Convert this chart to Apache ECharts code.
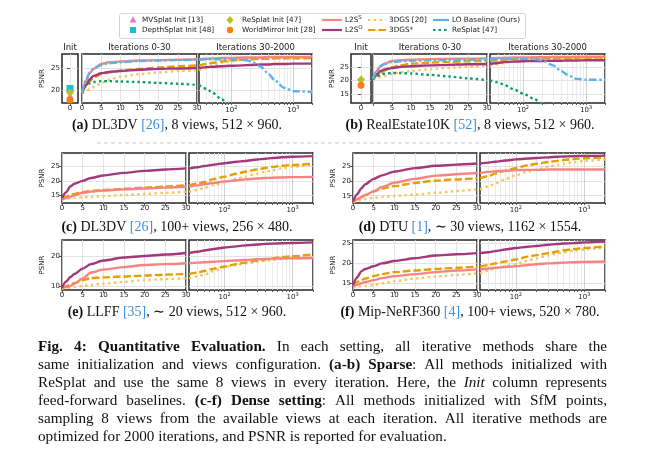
<!DOCTYPE html>
<html>
<head>
<meta charset="utf-8">
<title>PSNR vs iterations</title>
<script src="https://cdn.jsdelivr.net/npm/echarts@6.0.0/dist/echarts.min.js"></script>
<style>
html, body { margin: 0; padding: 0; background: #fff; }
#chart { width: 646px; height: 450px; }
</style>
</head>
<body>
<div id="chart"></div>
<script>
// iteration each curve value was read at
const iters = [0, 1, 2, 3, 5, 7, 10, 15, 20, 25, 30, 40, 50, 70, 100, 150, 200, 300, 400, 500, 700, 1000, 2000];

// feed-forward baselines (Init column)
const initNames = ['MVSplat Init [13]', 'DepthSplat Init [48]', 'ReSplat Init [47]', 'WorldMirror Init [28]'];
const initA = [18.7, 20.3, 19.4, 17.7];
const initB = [null, null, 20.4, 18.3];

// (a) DL3DV, 8 views
const a_L2SS    = [19.3, 22.0, 23.8, 24.8, 25.9, 26.3, 26.5, 26.7, 26.8, 26.9, 27.0, 27.1, 27.2, 27.3, 27.3, 27.4, 27.4, 27.4, 27.5, 27.5, 27.5, 27.5, 27.6];
const a_L2SO    = [19.3, 21.0, 22.4, 23.2, 23.8, 24.1, 24.3, 24.6, 24.8, 24.9, 25.0, 25.2, 25.3, 25.4, 25.5, 25.6, 25.7, 25.8, 25.8, 25.9, 25.9, 26.0, 26.0];
const a_3DGSs   = [19.3, 20.8, 22.0, 22.8, 23.6, 24.0, 24.4, 24.8, 25.1, 25.4, 25.6, 25.9, 26.2, 26.5, 26.7, 26.9, 27.0, 27.1, 27.1, 27.2, 27.2, 27.2, 27.3];
const a_3DGS    = [19.3, 19.6, 20.2, 20.6, 21.5, 22.3, 23.0, 23.6, 24.0, 24.3, 24.5, 25.0, 25.5, 26.2, 26.6, 26.9, 27.0, 27.1, 27.1, 27.2, 27.2, 27.2, 27.3];
const a_LO      = [19.3, 22.2, 24.0, 24.9, 25.7, 26.1, 26.3, 26.6, 26.7, 26.8, 26.9, 27.0, 27.0, 27.0, 27.0, 26.9, 26.6, 25.3, 23.6, 22.2, 20.5, 19.7, 19.5];
const a_ReSplat = [19.3, 20.8, 21.5, 21.8, 22.0, 22.0, 21.9, 21.8, 21.6, 21.4, 21.1, 20.2, 19.3, 17.8, 16.0, 13.5, 12.0, 10.0, 9.0, 8.5, 8.0, 7.5, 7.0];

// (b) RealEstate10K, 8 views
const b_L2SS    = [20.5, 23.5, 25.3, 26.2, 27.2, 27.5, 27.7, 27.9, 28.0, 28.1, 28.2, 28.3, 28.4, 28.5, 28.5, 28.6, 28.6, 28.7, 28.7, 28.7, 28.8, 28.8, 28.8];
const b_L2SO    = [20.5, 22.3, 23.5, 24.1, 24.6, 25.0, 25.3, 25.6, 25.8, 26.0, 26.1, 26.5, 26.8, 27.0, 27.1, 27.2, 27.2, 27.3, 27.3, 27.4, 27.4, 27.5, 27.5];
const b_3DGSs   = [20.5, 21.8, 22.8, 23.7, 24.9, 25.6, 26.2, 26.6, 26.9, 27.1, 27.3, 27.5, 27.7, 27.9, 28.0, 28.2, 28.2, 28.3, 28.3, 28.4, 28.4, 28.5, 28.5];
const b_3DGS    = [20.5, 20.9, 21.3, 21.7, 22.5, 23.0, 23.5, 24.2, 24.7, 25.1, 25.5, 26.0, 26.5, 27.1, 27.5, 27.8, 28.0, 28.1, 28.2, 28.2, 28.3, 28.3, 28.4];
const b_LO      = [20.5, 23.8, 25.4, 26.1, 26.8, 27.1, 27.3, 27.5, 27.6, 27.7, 27.8, 27.9, 28.0, 28.0, 28.0, 27.9, 27.5, 25.6, 23.6, 22.2, 20.6, 20.3, 20.3];
const b_ReSplat = [20.5, 21.6, 22.2, 22.5, 22.8, 22.8, 22.6, 22.1, 21.5, 20.8, 20.1, 19.3, 18.5, 16.8, 15.2, 13.2, 11.5, 9.0, 7.0, 6.0, 5.0, 4.0, 3.0];

// (c) DL3DV, 100+ views
const c_L2SO  = [14.0, 16.0, 18.0, 19.0, 20.0, 21.0, 21.9, 22.8, 23.5, 24.0, 24.4, 24.8, 25.2, 25.7, 26.2, 26.7, 27.0, 27.5, 27.8, 28.0, 28.3, 28.5, 28.7];
const c_L2SS  = [13.5, 13.9, 14.4, 14.9, 15.8, 16.2, 16.6, 17.0, 17.3, 17.6, 17.9, 18.4, 18.8, 19.3, 19.8, 20.2, 20.5, 20.8, 21.0, 21.1, 21.2, 21.3, 21.4];
const c_3DGSs = [13.8, 14.4, 15.0, 15.4, 16.1, 16.5, 16.8, 17.2, 17.6, 18.0, 18.4, 19.0, 19.6, 20.6, 21.5, 22.5, 23.2, 24.0, 24.5, 24.9, 25.3, 25.6, 26.0];
const c_3DGS  = [13.5, 13.7, 13.9, 14.0, 14.2, 14.4, 14.6, 15.0, 15.4, 15.8, 16.1, 16.8, 17.5, 18.5, 19.5, 20.7, 21.5, 22.5, 23.2, 23.7, 24.4, 25.0, 25.8];

// (d) DTU, ~30 views
const d_L2SO  = [13.0, 15.5, 17.5, 19.0, 20.8, 22.0, 23.3, 24.5, 25.3, 25.7, 26.1, 26.4, 26.7, 27.1, 27.5, 27.8, 28.0, 28.2, 28.4, 28.5, 28.6, 28.7, 28.8];
const d_L2SS  = [13.0, 13.8, 14.5, 15.2, 16.5, 18.0, 19.5, 20.8, 21.9, 22.4, 22.8, 23.2, 23.4, 23.6, 23.8, 23.9, 23.9, 24.0, 24.0, 24.0, 24.0, 24.0, 24.0];
const d_3DGSs = [13.0, 13.8, 14.6, 15.3, 16.5, 17.5, 18.3, 19.4, 20.2, 20.6, 21.0, 21.8, 22.6, 23.6, 24.5, 25.5, 26.0, 26.6, 27.0, 27.3, 27.6, 27.9, 28.2];
const d_3DGS  = [12.7, 13.2, 13.6, 13.9, 14.3, 14.6, 14.9, 15.4, 16.0, 16.6, 17.2, 18.2, 19.2, 20.7, 22.0, 23.3, 24.0, 25.0, 25.6, 26.0, 26.6, 27.0, 27.5];

// (e) LLFF, ~20 views
const e_L2SO  = [9.5, 11.5, 13.0, 14.0, 15.8, 17.3, 18.5, 19.5, 20.0, 20.5, 21.0, 21.4, 21.8, 22.3, 22.8, 23.2, 23.5, 23.8, 24.0, 24.1, 24.2, 24.3, 24.5];
const e_L2SS  = [9.5, 9.7, 10.0, 10.8, 12.5, 14.5, 15.5, 16.3, 17.0, 17.3, 17.6, 17.8, 17.9, 18.1, 18.3, 18.5, 18.7, 18.9, 19.0, 19.1, 19.2, 19.2, 19.3];
const e_3DGSs = [9.5, 10.0, 10.5, 11.0, 12.0, 12.6, 12.9, 13.2, 13.5, 13.8, 14.0, 14.5, 15.0, 15.8, 16.5, 17.3, 17.8, 18.5, 18.9, 19.2, 19.6, 19.9, 20.5];
const e_3DGS  = [9.3, 9.4, 9.5, 9.7, 10.0, 10.4, 10.8, 11.4, 12.0, 12.3, 12.6, 13.2, 13.8, 15.0, 16.3, 17.0, 17.5, 18.0, 18.4, 18.7, 19.0, 19.3, 19.5];

// (f) Mip-NeRF360, 100+ views
const f_L2SO  = [14.5, 16.5, 18.0, 18.6, 19.3, 20.0, 20.6, 21.3, 22.0, 22.3, 22.6, 22.8, 23.1, 23.5, 23.9, 24.2, 24.4, 24.7, 24.9, 25.0, 25.1, 25.3, 25.5];
const f_L2SS  = [14.2, 14.6, 15.0, 15.3, 15.8, 16.3, 16.8, 17.3, 17.8, 18.2, 18.5, 18.7, 18.9, 19.1, 19.3, 19.6, 19.8, 20.0, 20.1, 20.2, 20.3, 20.4, 20.5];
const f_3DGSs = [14.5, 15.3, 15.8, 16.2, 16.8, 17.3, 17.8, 18.2, 18.6, 18.9, 19.2, 19.6, 20.0, 20.5, 21.0, 21.7, 22.1, 22.6, 23.0, 23.3, 23.6, 23.9, 24.3];
const f_3DGS  = [14.0, 14.1, 14.2, 14.3, 14.5, 15.0, 15.5, 16.2, 16.7, 17.1, 17.5, 18.2, 18.8, 19.3, 19.8, 20.7, 21.3, 22.0, 22.5, 22.8, 23.2, 23.5, 24.0];

// x ticks
const logMinor = [40, 50, 60, 70, 80, 90, 100, 200, 300, 400, 500, 600, 700, 800, 900, 1000, 2000];
const logMajor = [100, 1000];

const captions = [
  '{b|(a)} DL3DV {l|[26]}, 8 views, 512 × 960.',
  '{b|(b)} RealEstate10K {l|[52]}, 8 views, 512 × 960.',
  '{b|(c)} DL3DV {l|[26]}, 100+ views, 256 × 480.',
  '{b|(d)} DTU {l|[1]}, ∼ 30 views, 1162 × 1554.',
  '{b|(e)} LLFF {l|[35]}, ∼ 20 views, 512 × 960.',
  '{b|(f)} Mip-NeRF360 {l|[4]}, 100+ views, 520 × 780.'
];

const figCaption = [
  '{b|Fig. 4: Quantitative Evaluation.} In each setting, all iterative methods share the',
  'same initialization and views configuration. {b|(a-b)} {b|Sparse}: All methods initialized with',
  'ReSplat and use the same 8 views in every iteration. Here, the {i|Init} column represents',
  'feed-forward baselines. {b|(c-f)} {b|Dense setting}: All methods initialized with SfM points,',
  'sampling 8 views from the available views at each iteration. All iterative methods are',
  'optimized for 2000 iterations, and PSNR is reported for evaluation.'
];

const styles = {
  '3DGS [20]':          { color: '#f6c55b', dash: [2.4, 3.4], z: 2 },
  '3DGS*':              { color: '#e69f00', dash: [7.5, 3], z: 3 },
  'L2SS':               { color: '#f98383', dash: 'solid', z: 4 },
  'L2SO':               { color: '#a3387a', dash: 'solid', z: 5 },
  'ReSplat [47]':       { color: '#0a9b70', dash: [2.5, 3], z: 6 },
  'LO Baseline (Ours)': { color: '#5bb4e8', dash: [7.5, 2.5, 2.4, 2.5], z: 7 }
};
const initStyles = [
  { symbol: 'triangle', color: '#e377c2', size: 7 },
  { symbol: 'rect', color: '#17becf', size: 7 },
  { symbol: 'diamond', color: '#bcbd22', size: 8 },
  { symbol: 'circle', color: '#ff7f0e', size: 7 }
];

const panels = [
  { init: [62, 16], short: [82, 115], long: [199, 113], top: 54, height: 49, y: [17, 28.2], yTicks: [20, 25], nameGap: 16, hideZero: false, initVals: initA,
    curves: { '3DGS [20]': a_3DGS, '3DGS*': a_3DGSs, 'L2SS': a_L2SS, 'L2SO': a_L2SO, 'ReSplat [47]': a_ReSplat, 'LO Baseline (Ours)': a_LO } },
  { init: [351, 20], short: [373, 114], long: [490, 115], top: 54, height: 49, y: [11.7, 29.8], yTicks: [15, 20, 25], nameGap: 15, hideZero: true, initVals: initB,
    curves: { '3DGS [20]': b_3DGS, '3DGS*': b_3DGSs, 'L2SS': b_L2SS, 'L2SO': b_L2SO, 'ReSplat [47]': b_ReSplat, 'LO Baseline (Ours)': b_LO } },
  { short: [62, 124], long: [189, 124], top: 153, height: 50, y: [12.2, 29.8], yTicks: [15, 20, 25], nameGap: 16,
    curves: { '3DGS [20]': c_3DGS, '3DGS*': c_3DGSs, 'L2SS': c_L2SS, 'L2SO': c_L2SO } },
  { short: [353, 124], long: [480, 125], top: 153, height: 50, y: [12.5, 29.7], yTicks: [15, 20, 25], nameGap: 16,
    curves: { '3DGS [20]': d_3DGS, '3DGS*': d_3DGSs, 'L2SS': d_L2SS, 'L2SO': d_L2SO } },
  { short: [62, 124], long: [189, 124], top: 240, height: 50, y: [8.7, 25.3], yTicks: [10, 20], nameGap: 16,
    curves: { '3DGS [20]': e_3DGS, '3DGS*': e_3DGSs, 'L2SS': e_L2SS, 'L2SO': e_L2SO } },
  { short: [353, 124], long: [480, 125], top: 240, height: 50, y: [13.3, 25.9], yTicks: [15, 20, 25], nameGap: 16,
    curves: { '3DGS [20]': f_3DGS, '3DGS*': f_3DGSs, 'L2SS': f_L2SS, 'L2SO': f_L2SO } }
];
const captionPos = [[177, 125], [470, 125], [177, 227], [470, 227], [177, 312], [470, 312]];

const FONT = 'DejaVu Sans';
const SERIF = 'Liberation Serif';
const gridLine = '#dcdcdc';
const tickStyle = { length: 3, lineStyle: { color: '#333', width: 0.8 } };
const labelStyle = { fontSize: 7, color: '#222', fontFamily: FONT, margin: 2 };

const grids = [], xAxes = [], yAxes = [], series = [];

function shortX(g, hideZero) {
  return {
    type: 'value', gridIndex: g, min: 0, max: 30, interval: 5,
    axisLine: { show: false },
    axisTick: Object.assign({ show: true }, tickStyle),
    axisLabel: Object.assign({ formatter: v => (hideZero && v === 0) ? '' : String(v) }, labelStyle),
    splitLine: { show: true, lineStyle: { color: gridLine, width: 0.8 } }
  };
}
function longX(g) {
  const ticks = logMinor.map(v => Math.log10(v));
  return {
    type: 'value', gridIndex: g, min: Math.log10(30), max: Math.log10(2000),
    axisLine: { show: false },
    axisTick: Object.assign({ show: true, customValues: ticks }, tickStyle, { length: 2 }),
    axisLabel: Object.assign({
      customValues: logMajor.map(v => Math.log10(v)),
      formatter: v => '{n|10}{s|' + Math.round(v) + '}',
      rich: {
        n: { fontSize: 7, fontFamily: FONT, color: '#222', verticalAlign: 'bottom' },
        s: { fontSize: 5, fontFamily: FONT, color: '#222', verticalAlign: 'top', padding: [0, 0, 4, 0] }
      }
    }, labelStyle),
    splitLine: { show: true, lineStyle: { color: logMinor.map(v => logMajor.indexOf(v) >= 0 ? '#c4c4c4' : '#e6e6e6'), width: 0.8 } }
  };
}
function initX(g) {
  return {
    type: 'value', gridIndex: g, min: -0.5, max: 0.5,
    axisLine: { show: false },
    axisTick: Object.assign({ show: true, customValues: [0] }, tickStyle),
    axisLabel: Object.assign({ customValues: [0] }, labelStyle),
    splitLine: { show: true, lineStyle: { color: gridLine, width: 0.8 } }
  };
}
function yAxisFor(g, p, labeled) {
  return {
    type: 'value', gridIndex: g, min: p.y[0], max: p.y[1],
    name: labeled ? 'PSNR' : '', nameLocation: 'middle', nameGap: p.nameGap,
    nameTextStyle: { fontSize: 7, color: '#222', fontFamily: FONT },
    axisLine: { show: false },
    axisTick: Object.assign({ show: labeled, customValues: p.yTicks }, tickStyle),
    axisLabel: Object.assign({ show: labeled, customValues: p.yTicks }, labelStyle),
    splitLine: { show: true, lineStyle: { color: gridLine, width: 0.8 } }
  };
}
function curve(name, vals, xi, yi, isLog) {
  const pts = [];
  iters.forEach((it, k) => {
    if (vals[k] == null) return;
    if (isLog ? it >= 30 : it <= 30) pts.push([isLog ? Math.log10(it) : it, vals[k]]);
  });
  const st = styles[name];
  return {
    type: 'line', name: name, xAxisIndex: xi, yAxisIndex: yi, data: pts,
    symbol: 'none', showSymbol: false, smooth: 0.25, smoothMonotone: 'x', clip: true,
    lineStyle: { color: st.color, width: 2.4, type: st.dash },
    itemStyle: { color: st.color }, z: st.z, silent: true
  };
}

panels.forEach(p => {
  const subs = [];
  if (p.init) subs.push(['init', p.init]);
  subs.push(['short', p.short], ['long', p.long]);
  subs.forEach(([kind, box], si) => {
    const g = grids.length;
    grids.push({
      left: box[0], top: p.top, width: box[1], height: p.height,
      show: true, borderColor: '#262626', borderWidth: 1.5, backgroundColor: 'rgba(0,0,0,0)',
      containLabel: false, outerBoundsMode: 'none'
    });
    const xi = xAxes.length;
    xAxes.push(kind === 'init' ? initX(g) : kind === 'short' ? shortX(g, p.hideZero) : longX(g));
    const yi = yAxes.length;
    yAxes.push(yAxisFor(g, p, si === 0));
    if (kind === 'init') {
      initNames.forEach((nm, k) => {
        if (p.initVals[k] == null) return;
        const s = initStyles[k];
        series.push({
          type: 'scatter', name: nm, xAxisIndex: xi, yAxisIndex: yi,
          data: [[0, p.initVals[k]]], symbol: s.symbol, symbolSize: s.size,
          itemStyle: { color: s.color, opacity: 1 }, z: 3 + k, silent: true
        });
      });
    } else {
      Object.keys(p.curves).forEach(nm => series.push(curve(nm, p.curves[nm], xi, yi, kind === 'long')));
    }
  });
});

const graphics = [];

// subplot titles for the sparse panels
panels.slice(0, 2).forEach(p => {
  [[p.init, 'Init'], [p.short, 'Iterations 0-30'], [p.long, 'Iterations 30-2000']].forEach(([box, t]) => {
    graphics.push({ type: 'text', x: box[0] + box[1] / 2, y: 48, z: 50,
      style: { text: t, fontSize: 8.5, fontFamily: FONT, fill: '#222', align: 'center', verticalAlign: 'middle' } });
  });
});

// dashed separator between sparse and dense rows
graphics.push({ type: 'line', z: 50, shape: { x1: 97, y1: 143, x2: 545, y2: 143 },
  style: { stroke: '#c8c8c8', lineWidth: 1, lineDash: [4, 3] } });

// sub captions
const capRich = {
  b: { fontSize: 14, fontFamily: SERIF, fontWeight: 'bold', fill: '#111' },
  l: { fontSize: 14, fontFamily: SERIF, fill: '#3b8ede' }
};
captions.forEach((t, k) => {
  graphics.push({ type: 'text', x: captionPos[k][0], y: captionPos[k][1], z: 50,
    style: { text: t, rich: capRich, fontSize: 14, fontFamily: SERIF, fill: '#111', align: 'center', verticalAlign: 'middle' } });
});

// legend box
graphics.push({ type: 'rect', z: 40, shape: { x: 119.5, y: 13.5, width: 406, height: 25, r: 2 },
  style: { fill: '#fff', stroke: '#d4d4d4', lineWidth: 1 } });
const legFont = { fontSize: 7.3, fontFamily: FONT, fill: '#222', verticalAlign: 'middle' };
const supRich = { s: { fontSize: 5.5, fontFamily: FONT, fill: '#222', verticalAlign: 'top', padding: [0, 0, 4, 0] } };
const rowY = [20, 30];
function legText(x, y, t) {
  graphics.push({ type: 'text', x: x, y: y, z: 45, style: Object.assign({ text: t, rich: supRich }, legFont) });
}
graphics.push({ type: 'polygon', z: 45, shape: { points: [[133, 16.5], [136.5, 22.5], [129.5, 22.5]] }, style: { fill: initStyles[0].color } });
graphics.push({ type: 'rect', z: 45, shape: { x: 130, y: 27, width: 6, height: 6 }, style: { fill: initStyles[1].color } });
graphics.push({ type: 'polygon', z: 45, shape: { points: [[230, 16], [233.5, 20], [230, 24], [226.5, 20]] }, style: { fill: initStyles[2].color } });
graphics.push({ type: 'circle', z: 45, shape: { cx: 230, cy: 30, r: 3.2 }, style: { fill: initStyles[3].color } });
legText(142, rowY[0], initNames[0]);
legText(142, rowY[1], initNames[1]);
legText(242, rowY[0], initNames[2]);
legText(242, rowY[1], initNames[3]);
[['L2SS', 322, 342, 0, 'L2S{s|S}'], ['L2SO', 322, 342, 1, 'L2S{s|O}'],
 ['3DGS [20]', 368, 386, 0, '3DGS [20]'], ['3DGS*', 368, 386, 1, '3DGS*'],
 ['LO Baseline (Ours)', 433, 449, 0, 'LO Baseline (Ours)'], ['ReSplat [47]', 433, 449, 1, 'ReSplat [47]']].forEach(([nm, x1, x2, r, label]) => {
  const st = styles[nm];
  const dash = nm === 'LO Baseline (Ours)' ? null : (st.dash === 'solid' ? null : st.dash);
  graphics.push({ type: 'line', z: 45, shape: { x1: x1, y1: rowY[r], x2: x2, y2: rowY[r] },
    style: { stroke: st.color, lineWidth: 2.2, lineDash: dash } });
  legText(x2 + 3, rowY[r], label);
});

// justified figure caption
const CAP_SIZE = 15.2;
const capFonts = {
  n: CAP_SIZE + 'px "' + SERIF + '"',
  b: 'bold ' + CAP_SIZE + 'px "' + SERIF + '"',
  i: 'italic ' + CAP_SIZE + 'px "' + SERIF + '"'
};
const figRich = {
  n: { fontSize: CAP_SIZE, fontFamily: SERIF, fill: '#111' },
  b: { fontSize: CAP_SIZE, fontFamily: SERIF, fontWeight: 'bold', fill: '#111' },
  i: { fontSize: CAP_SIZE, fontFamily: SERIF, fontStyle: 'italic', fill: '#111' }
};
const ctx = document.createElement('canvas').getContext('2d');
function toWords(line) {
  const parts = [];
  const re = /\{(\w)\|([^}]*)\}/g;
  let last = 0, m;
  while ((m = re.exec(line))) {
    if (m.index > last) parts.push(['n', line.slice(last, m.index)]);
    parts.push([m[1], m[2]]);
    last = re.lastIndex;
  }
  if (last < line.length) parts.push(['n', line.slice(last)]);
  const words = [[]];
  parts.forEach(([s, t]) => {
    t.split(/( )/).forEach(tok => {
      if (tok === ' ') { if (words[words.length - 1].length) words.push([]); }
      else if (tok) words[words.length - 1].push([s, tok]);
    });
  });
  return words.filter(w => w.length);
}
const capLeft = 38, capRight = 607, capTop = 347, capStep = 18;
figCaption.forEach((line, li) => {
  const words = toWords(line);
  const widths = words.map(w => w.reduce((acc, [s, t]) => { ctx.font = capFonts[s]; return acc + ctx.measureText(t).width; }, 0));
  const total = widths.reduce((a, b) => a + b, 0);
  ctx.font = capFonts.n;
  const space = ctx.measureText(' ').width;
  const last = li === figCaption.length - 1;
  const gap = last ? space : (capRight - capLeft - total) / (words.length - 1);
  let x = capLeft;
  words.forEach((w, k) => {
    graphics.push({ type: 'text', x: x, y: capTop + li * capStep, z: 50,
      style: { text: w.map(([s, t]) => '{' + s + '|' + t + '}').join(''), rich: figRich, fontSize: CAP_SIZE, fontFamily: SERIF, fill: '#111', verticalAlign: 'middle' } });
    x += widths[k] + gap;
  });
});

const chart = echarts.init(document.getElementById('chart'));
chart.setOption({
  animation: false,
  grid: grids,
  xAxis: xAxes,
  yAxis: yAxes,
  series: series,
  graphic: graphics
});
</script>
</body>
</html>
